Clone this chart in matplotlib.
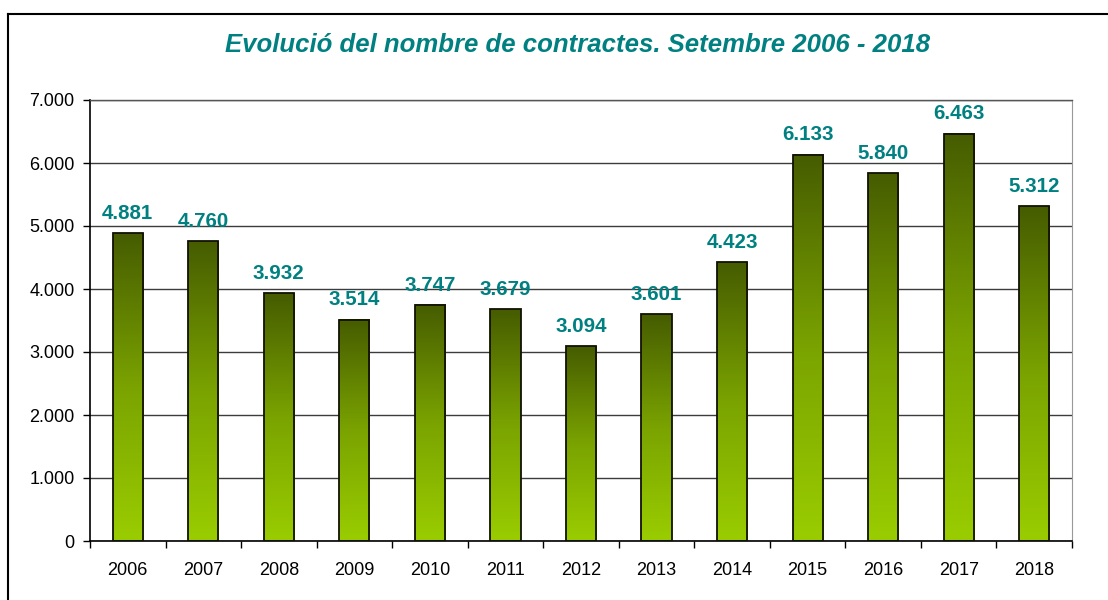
import numpy as np
import matplotlib
matplotlib.use("Agg")
import matplotlib.pyplot as plt
from matplotlib.colors import LinearSegmentedColormap
from matplotlib.ticker import FuncFormatter, MultipleLocator
from matplotlib.lines import Line2D

# data
years = ['2006', '2007', '2008', '2009', '2010', '2011', '2012',
         '2013', '2014', '2015', '2016', '2017', '2018']
contracts = [4881, 4760, 3932, 3514, 3747, 3679, 3094,
             3601, 4423, 6133, 5840, 6463, 5312]

plt.rcParams['font.family'] = ['Liberation Sans', 'DejaVu Sans']
teal = '#008080'

fig = plt.figure(figsize=(11.08, 6), dpi=100)
ax = fig.add_axes([90/1108, 59/600, (1072-90)/1108, (541-100)/600])

# gradient for bars: light at bottom, dark at top
cmap = LinearSegmentedColormap.from_list('grn', ['#9acd00', '#7aa300', '#465c00'])
grad = np.linspace(0, 1, 256).reshape(-1, 1)
w = 0.4
x = np.arange(len(years))
for xi, v in zip(x, contracts):
    ax.imshow(grad, cmap=cmap, origin='lower', aspect='auto',
              extent=(xi - w/2, xi + w/2, 0, v), zorder=2)
    ax.annotate(f"{v:,}".replace(',', '.'), (xi, v), xytext=(0, 7.5),
                textcoords='offset points', ha='center', va='bottom',
                fontsize=14.8, fontweight='bold', color=teal)
ax.bar(x, contracts, width=w, facecolor='none', edgecolor='#111100',
       linewidth=1.3, zorder=3)

ax.set_xlim(-0.5, len(years) - 0.5)
ax.set_ylim(0, 7000)
ax.yaxis.set_major_locator(MultipleLocator(1000))
ax.yaxis.set_major_formatter(FuncFormatter(lambda v, p: f"{int(v):,}".replace(',', '.')))
ax.set_xticks(x)
ax.set_xticklabels(years)
ax.set_xticks(np.arange(-0.5, len(years), 1), minor=True)
ax.tick_params(axis='x', which='major', length=0, pad=15, labelsize=13)
ax.tick_params(axis='x', which='minor', length=5, width=1, direction='out')
ax.tick_params(axis='y', length=5, width=1, pad=6, labelsize=13)
ax.yaxis.grid(True, color='#3c3c3c', linewidth=1)
ax.set_axisbelow(True)
for s in ['left', 'bottom']:
    ax.spines[s].set_color('black')
    ax.spines[s].set_linewidth(1.2)
ax.spines['right'].set_color('#999999')
ax.spines['top'].set_color('#555555')
ax.spines['top'].set_linewidth(1)

fig.text(578/1108, 1 - 45/600, 'Evolució del nombre de contractes. Setembre 2006 - 2018',
         ha='center', va='center', fontsize=18.5, fontweight='bold',
         fontstyle='italic', color=teal)

# outer chart frame
fig.add_artist(Line2D([8/1108, 8/1108], [0, 1 - 14/600], transform=fig.transFigure,
                      color='black', linewidth=1.5))
fig.add_artist(Line2D([8/1108, 1], [1 - 14/600, 1 - 14/600], transform=fig.transFigure,
                      color='black', linewidth=1.5))

fig.savefig('out.png', dpi=100)
